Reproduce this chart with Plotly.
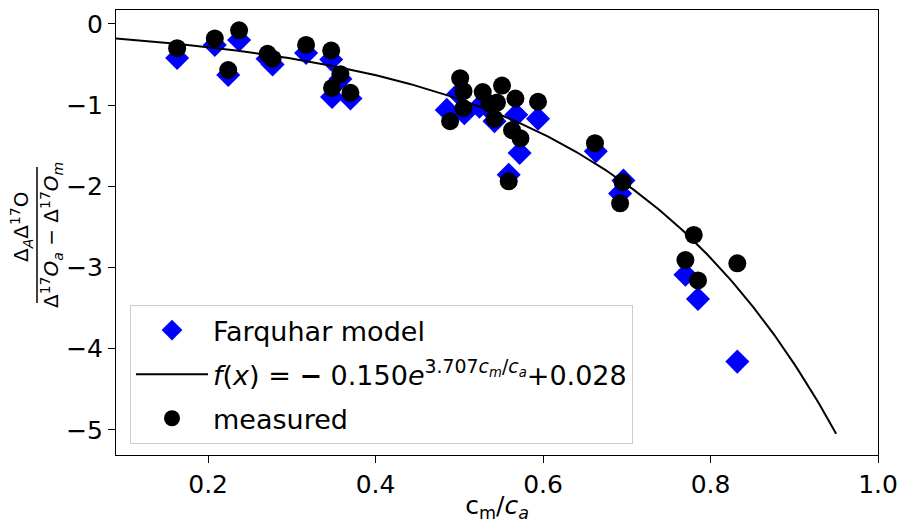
import numpy as np
import plotly.graph_objects as go

# measured points
meas_x = [0.163, 0.208, 0.237, 0.224, 0.271, 0.277, 0.317, 0.347, 0.358, 0.348, 0.370,
          0.489, 0.501, 0.505, 0.505, 0.528, 0.536, 0.545, 0.551, 0.542, 0.567, 0.563,
          0.573, 0.559, 0.594, 0.662, 0.695, 0.692, 0.780, 0.770, 0.832, 0.785]
meas_y = [-0.30, -0.18, -0.08, -0.57, -0.37, -0.43, -0.26, -0.33, -0.62, -0.79, -0.85,
          -1.20, -0.67, -0.83, -1.04, -0.84, -0.98, -0.97, -0.76, -1.17, -0.92, -1.31,
          -1.41, -1.94, -0.96, -1.47, -1.95, -2.21, -2.60, -2.91, -2.95, -3.16]

# Farquhar model points
farq_x = [0.163, 0.208, 0.237, 0.224, 0.271, 0.277, 0.317, 0.347, 0.358, 0.348, 0.370,
          0.485, 0.499, 0.506, 0.524, 0.536, 0.542, 0.568, 0.594, 0.572, 0.559, 0.663,
          0.696, 0.692, 0.770, 0.785, 0.832]
farq_y = [-0.42, -0.26, -0.20, -0.63, -0.43, -0.50, -0.36, -0.44, -0.68, -0.90, -0.92,
          -1.06, -0.86, -1.10, -1.02, -1.05, -1.20, -1.12, -1.17, -1.59, -1.86, -1.57,
          -1.93, -2.09, -3.09, -3.39, -4.16]

# fit parameters (from legend)
fit_a = -0.150
fit_b = 3.707
fit_c = 0.028
fit_xmin, fit_xmax = 0.09, 0.95

x_ticks = [0.2, 0.4, 0.6, 0.8, 1.0]
y_ticks = [0, -1, -2, -3, -4, -5]

fx = np.linspace(fit_xmin, fit_xmax, 300)
fy = fit_a * np.exp(fit_b * fx) + fit_c

FONT = "DejaVu Sans"
FS = 25
LFS = 27
fig = go.Figure()
fig.add_trace(go.Scatter(
    x=farq_x, y=farq_y, mode="markers", name="Farquhar model",
    marker=dict(symbol="diamond", size=18.5, color="#0000ff", line=dict(width=0)),
    legendgroup="a"))
fig.add_trace(go.Scatter(
    x=fx, y=fy, mode="lines",
    name="<i>f</i>(<i>x</i>) = <b>−</b> 0.150<i>e</i><sup>3.707<i>c<sub>m</sub></i>/<i>c<sub>a</sub></i></sup>+0.028",
    line=dict(color="black", width=2), legendgroup="b"))
fig.add_trace(go.Scatter(
    x=meas_x, y=meas_y, mode="markers", name="measured",
    marker=dict(symbol="circle", size=18, color="black", line=dict(width=0)),
    legendgroup="c"))

L, R, T, B = 116, 22, 10, 68
W, H = 900, 523
pw, ph = W - L - R, H - T - B

def px2paper_x(p):
    return (p - L) / pw

def px2paper_y(p):
    return (H - B - p) / ph

fig.update_layout(
    width=W, height=H,
    margin=dict(l=L, r=R, t=T, b=B, autoexpand=False),
    paper_bgcolor="white", plot_bgcolor="white",
    font=dict(family=FONT, size=FS, color="black"),
    showlegend=True,
    legend=dict(x=px2paper_x(130), y=px2paper_y(305), xanchor="left", yanchor="top",
                bgcolor="rgba(255,255,255,0.8)", bordercolor="#cccccc", borderwidth=1,
                font=dict(family=FONT, size=LFS), tracegroupgap=6,
                traceorder="grouped", itemwidth=72),
    xaxis=dict(range=[0.09, 1.0], tickvals=x_ticks, ticktext=[f"{v:.1f}" for v in x_ticks],
               showgrid=False, zeroline=False, showline=True, mirror=True, automargin=False,
               linecolor="black", linewidth=1, ticks="outside", ticklen=7, tickcolor="black",
               tickfont=dict(size=FS),
               title=dict(text="c<sub>m</sub>/<i>c<sub>a</sub></i>", font=dict(size=FS), standoff=6)),
    yaxis=dict(range=[-5.31, 0.17], tickvals=y_ticks, ticktext=["0", "−1", "−2", "−3", "−4", "−5"],
               showgrid=False, zeroline=False, showline=True, mirror=True, automargin=False,
               linecolor="black", linewidth=1, ticks="outside", ticklen=7, tickcolor="black",
               tickfont=dict(size=FS)),
)

# y-axis label as a fraction
fig.add_annotation(xref="paper", yref="paper", x=px2paper_x(21), y=px2paper_y(227),
                   text="Δ<sub><i>A</i></sub>Δ<sup>17</sup>O", textangle=-90, showarrow=False,
                   xanchor="center", yanchor="middle", font=dict(size=20))
fig.add_annotation(xref="paper", yref="paper", x=px2paper_x(51), y=px2paper_y(235),
                   text="Δ<sup>17</sup><i>O<sub>a</sub></i> − Δ<sup>17</sup><i>O<sub>m</sub></i>",
                   textangle=-90, showarrow=False, xanchor="center", yanchor="middle",
                   font=dict(size=20))
fig.add_shape(type="line", xref="paper", yref="paper",
              x0=px2paper_x(37), x1=px2paper_x(37), y0=px2paper_y(167), y1=px2paper_y(303),
              line=dict(color="black", width=1.5))

fig.write_html("out.html")
